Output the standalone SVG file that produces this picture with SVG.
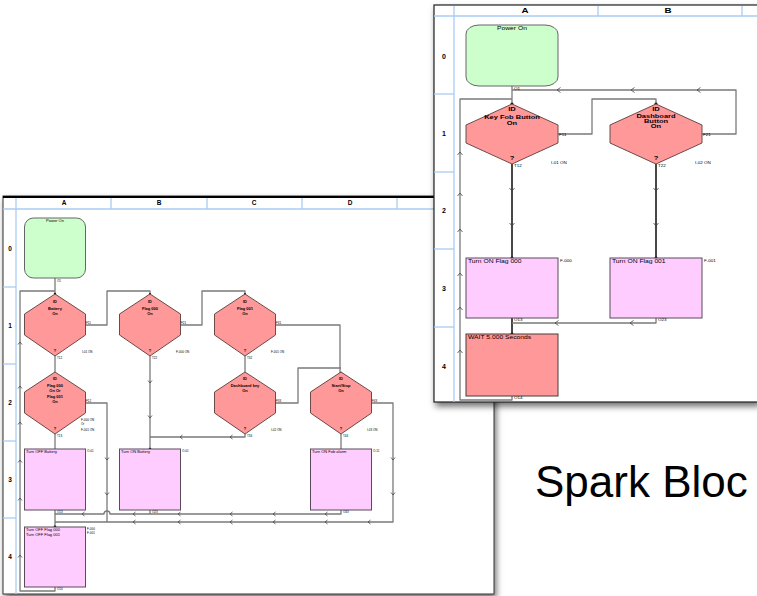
<svg xmlns="http://www.w3.org/2000/svg" width="757" height="596" viewBox="0 0 757 596">
<style>
.t{font-family:"Liberation Sans",Arial,Helvetica,sans-serif;fill:#000}
.b{font-weight:bold}
.c{fill:none;stroke:#7a7a7a;stroke-width:1.3;stroke-linejoin:round}
.cd{fill:none;stroke:#333;stroke-width:1.8}
.g{stroke:#a9cdf2;stroke-width:1.3;fill:none}
.dia{fill:#ff9999;stroke:#6b4a4a;stroke-width:1;stroke-linejoin:round}
.pk{fill:#ffccff;stroke:#5a4a5a;stroke-width:1}
.rd{fill:#ff9999;stroke:#4a3a3a;stroke-width:1}
.gr{fill:#ccffcc;stroke:#666;stroke-width:1}
.ar{fill:none;stroke:#444;stroke-width:0.8}
.dot{fill:#111}
.s3{font-size:3px}
.s4{font-size:4px}
</style>
<defs>
<filter id="sh" x="-5%" y="-5%" width="112%" height="112%">
<feDropShadow dx="2" dy="4" stdDeviation="3" flood-color="#000" flood-opacity="0.55"/>
</filter>
<path id="aL" d="M2.5,-2 L0,0 L2.5,2"/>
<path id="aU" d="M-2,2.5 L0,0 L2,2.5"/>
<path id="aD" d="M-2,-2.5 L0,0 L2,-2.5"/>
<path id="bL" d="M3.5,-2.5 L0,0 L3.5,2.5"/>
<path id="bU" d="M-2.5,3 L0,0 L2.5,3"/>
<path id="bD" d="M-2.5,-3 L0,0 L2.5,-3"/>
</defs>
<rect width="757" height="596" fill="#fff"/>

<!-- LEFT PANEL -->
<g id="left-panel">
<rect x="3" y="196" width="491" height="398" fill="#fff" stroke="#333" stroke-width="1" filter="url(#sh)"/>
<line x1="3" y1="197" x2="494" y2="197" stroke="#000" stroke-width="2"/>
<g class="g">
<line x1="3" y1="209" x2="494" y2="209"/>
<line x1="16" y1="198" x2="16" y2="594"/>
<line x1="111" y1="198" x2="111" y2="209"/>
<line x1="207" y1="198" x2="207" y2="209"/>
<line x1="302" y1="198" x2="302" y2="209"/>
<line x1="397" y1="198" x2="397" y2="209"/>
<line x1="3" y1="287" x2="16" y2="287"/>
<line x1="3" y1="364" x2="16" y2="364"/>
<line x1="3" y1="441" x2="16" y2="441"/>
<line x1="3" y1="518" x2="16" y2="518"/>
</g>
<g class="t b" font-size="6.5" text-anchor="middle">
<text x="64" y="205">A</text><text x="159" y="205">B</text><text x="254" y="205">C</text><text x="350" y="205">D</text>
<text x="10" y="251">0</text><text x="10" y="328">1</text><text x="10" y="405">2</text><text x="10" y="482">3</text><text x="10" y="559">4</text>
</g>
</g>

<g id="left-connectors">
<path class="c" d="M55,278 V294"/>
<path class="c" d="M55,587 V591 H20 V291 H55"/>
<path class="c" d="M85,325 H107 V291 H150 V294"/>
<path class="c" d="M181,325 H202 V291 H245 V294"/>
<path class="c" d="M276,325 H340 V373"/>
<path class="c" d="M275,403 H298 V368 H341"/>
<path class="c" d="M55,356 V372"/>
<path class="c" d="M150,356 V449"/>
<path class="c" d="M245,356 V372"/>
<path class="c" d="M245,434 V437 H150"/>
<path class="c" d="M85,403 H107 V522"/>
<path class="c" d="M341,510 V514 H110 A3,3 0 0 0 104,514 H55 V527"/>
<path class="c" d="M150,510 V514"/>
<path class="c" d="M55,510 V514"/>
<path class="c" d="M372,403 H393 V522 H55"/>
<path class="c" d="M55,434 V449"/>
<path class="c" d="M341,434 V449"/>
<g class="ar">
<use href="#aU" x="20" y="342"/><use href="#aU" x="20" y="386"/><use href="#aU" x="20" y="422"/><use href="#aU" x="20" y="460"/><use href="#aU" x="20" y="498"/><use href="#aU" x="20" y="555"/>
<use href="#aD" x="150" y="383"/><use href="#aD" x="150" y="418"/>
<use href="#aD" x="107" y="460"/><use href="#aD" x="107" y="495"/>
<use href="#aD" x="393" y="460"/><use href="#aD" x="393" y="495"/>
<use href="#aL" x="180" y="437"/><use href="#aL" x="230" y="437"/>
<use href="#aL" x="82" y="514"/><use href="#aL" x="133" y="514"/><use href="#aL" x="178" y="514"/><use href="#aL" x="230" y="514"/><use href="#aL" x="273" y="514"/><use href="#aL" x="325" y="514"/>
<use href="#aL" x="133" y="522"/><use href="#aL" x="178" y="522"/><use href="#aL" x="230" y="522"/><use href="#aL" x="273" y="522"/><use href="#aL" x="325" y="522"/><use href="#aL" x="368" y="522"/>
</g>
<circle class="dot" cx="55" cy="294" r="1.2"/><circle class="dot" cx="150" cy="294" r="1.1"/><circle class="dot" cx="245" cy="294" r="1.1"/>
<circle class="dot" cx="341" cy="373" r="1.2"/><circle class="dot" cx="150" cy="449" r="1.3"/><circle class="dot" cx="55" cy="527" r="1.4"/>
</g>

<g id="L-power-on">
<rect class="gr" x="24.5" y="218" width="61" height="60" rx="9"/>
<text class="t s4" x="55" y="222" text-anchor="middle">Power On</text>
<text class="t s3" x="57" y="282">O1</text>
</g>
<g id="L-battery">
<path class="dia" d="M55,294 L85.5,314 L85.5,335 L55,356 L24.5,335 L24.5,314 Z"/>
<g class="t s4 b" text-anchor="middle"><text x="55" y="303">ID</text><text x="55" y="310">Battery</text><text x="55" y="315">On</text><text x="55" y="352">?</text></g>
<text class="t s3" x="86" y="324">F11</text><text class="t s3" x="57" y="359">T12</text>
<text class="t s3" x="82" y="353">I-01 ON</text>
</g>
<g id="L-flag000">
<path class="dia" d="M150,294 L180.5,314 L180.5,335 L150,356 L119.5,335 L119.5,314 Z"/>
<g class="t s4 b" text-anchor="middle"><text x="150" y="303">ID</text><text x="150" y="310">Flag 000</text><text x="150" y="315">On</text><text x="150" y="352">?</text></g>
<text class="t s3" x="181" y="324">F21</text><text class="t s3" x="152" y="359">T22</text>
<text class="t s3" x="176" y="353">F-000 ON</text>
</g>
<g id="L-flag001">
<path class="dia" d="M245,294 L275.5,314 L275.5,335 L245,356 L214.5,335 L214.5,314 Z"/>
<g class="t s4 b" text-anchor="middle"><text x="245" y="303">ID</text><text x="245" y="310">Flag 001</text><text x="245" y="315">On</text><text x="245" y="352">?</text></g>
<text class="t s3" x="276" y="324">F31</text><text class="t s3" x="247" y="359">T32</text>
<text class="t s3" x="271" y="353">F-001 ON</text>
</g>
<g id="L-flag-or">
<path class="dia" d="M55,372 L85.5,392 L85.5,413 L55,434 L24.5,413 L24.5,392 Z"/>
<g class="t s4 b" text-anchor="middle"><text x="55" y="380">ID</text><text x="55" y="387">Flag 000</text><text x="55" y="392">On Or</text><text x="55" y="398">Flag 001</text><text x="55" y="403">On</text><text x="55" y="430">?</text></g>
<text class="t s3" x="86" y="402">F12</text><text class="t s3" x="57" y="437">T13</text>
<text class="t s3" x="81" y="421">F-000 ON</text><text class="t s3" x="81" y="425">Or</text><text class="t s3" x="81" y="431">F-001 ON</text>
</g>
<g id="L-dashboard">
<path class="dia" d="M245,372 L275.5,392 L275.5,413 L245,434 L214.5,413 L214.5,392 Z"/>
<g class="t s4 b" text-anchor="middle"><text x="245" y="380">ID</text><text x="245" y="387">Dashboard key</text><text x="245" y="392">On</text><text x="245" y="430">?</text></g>
<text class="t s3" x="276" y="402">F33</text><text class="t s3" x="247" y="437">T34</text>
<text class="t s3" x="271" y="431">I-02 ON</text>
</g>
<g id="L-startstop">
<path class="dia" d="M341,372 L371.5,392 L371.5,413 L341,434 L310.5,413 L310.5,392 Z"/>
<g class="t s4 b" text-anchor="middle"><text x="341" y="380">ID</text><text x="341" y="387">Start/Stop</text><text x="341" y="392">On</text><text x="341" y="430">?</text></g>
<text class="t s3" x="372" y="402">F43</text><text class="t s3" x="343" y="437">T44</text>
<text class="t s3" x="367" y="431">I-03 ON</text>
</g>
<g id="L-off-battery">
<rect class="pk" x="24.5" y="449" width="61" height="61"/>
<text class="t s4" x="26" y="453">Turn OFF Battery</text>
<text class="t s3" x="87" y="452">O-01</text><text class="t s3" x="57" y="513">O13</text>
</g>
<g id="L-on-battery">
<rect class="pk" x="119.5" y="449" width="61" height="61"/>
<text class="t s4" x="121" y="453">Turn ON Battery</text>
<text class="t s3" x="182" y="452">O-01</text><text class="t s3" x="152" y="513">O23</text>
</g>
<g id="L-on-fob">
<rect class="pk" x="310.5" y="449" width="61" height="61"/>
<text class="t s4" x="312" y="453">Turn ON Fob alarm</text>
<text class="t s3" x="373" y="452">O-11</text><text class="t s3" x="343" y="513">O43</text>
</g>
<g id="L-off-flags">
<rect class="pk" x="24.5" y="527" width="61" height="60"/>
<text class="t s4" x="26" y="531">Turn OFF Flag 000</text>
<text class="t s4" x="26" y="536">Turn OFF Flag 001</text>
<text class="t s3" x="87" y="530">F-000</text><text class="t s3" x="87" y="534">F-001</text><text class="t s3" x="57" y="590">O14</text>
</g>

<!-- RIGHT PANEL -->
<g id="right-panel">
<rect x="434" y="5" width="324" height="397" fill="#fff" stroke="#222" stroke-width="1.2" filter="url(#sh)"/>
<g class="g">
<line x1="434" y1="16" x2="757" y2="16"/>
<line x1="454" y1="6" x2="454" y2="402"/>
<line x1="598" y1="6" x2="598" y2="16"/>
<line x1="742" y1="6" x2="742" y2="16"/>
<line x1="434" y1="94" x2="454" y2="94"/>
<line x1="434" y1="172" x2="454" y2="172"/>
<line x1="434" y1="249" x2="454" y2="249"/>
<line x1="434" y1="327" x2="454" y2="327"/>
</g>
<g class="t b" font-size="7" text-anchor="middle">
<text transform="translate(525,13) scale(1.4,1)">A</text>
<text transform="translate(668,13) scale(1.4,1)">B</text>
<text x="444" y="59">0</text><text x="444" y="136">1</text><text x="444" y="213">2</text><text x="444" y="291">3</text><text x="444" y="369">4</text>
</g>
</g>

<g id="right-connectors">
<path class="c" d="M512,86 V104"/>
<path class="c" d="M701,134 H736 V90 H512"/>
<path class="c" d="M558,134 H592 V99 H656 V104"/>
<path class="c" d="M512,396 V400 H460 V99 H512"/>
<path class="cd" d="M512,164 V258"/>
<path class="cd" d="M656,164 V258"/>
<path class="cd" d="M512,318 V334"/>
<path class="c" d="M656,318 V323 H512"/>
<g class="ar">
<use href="#bL" x="557" y="90"/><use href="#bL" x="631" y="90"/><use href="#bL" x="697" y="90"/>
<use href="#bU" x="460" y="152"/><use href="#bU" x="460" y="193"/><use href="#bU" x="460" y="229"/><use href="#bU" x="460" y="273"/><use href="#bU" x="460" y="307"/><use href="#bU" x="460" y="350"/>
<use href="#bD" x="512" y="191"/><use href="#bD" x="512" y="226"/>
<use href="#bD" x="656" y="191"/><use href="#bD" x="656" y="226"/>
<use href="#bL" x="555" y="323"/><use href="#bL" x="630" y="323"/>
</g>
<circle class="dot" cx="512" cy="104" r="1.6"/><circle class="dot" cx="656" cy="104" r="1.6"/>
<circle class="dot" cx="512" cy="258" r="1.6"/><circle class="dot" cx="656" cy="258" r="1.6"/><circle class="dot" cx="512" cy="334" r="1.6"/>
</g>

<g id="R-power-on">
<rect class="gr" x="466" y="25" width="92" height="61" rx="13" ry="9"/>
<text class="t" font-size="4.5" text-anchor="middle" transform="translate(512,30) scale(1.5,1)">Power On</text>
<text class="t s3" transform="translate(514,90) scale(1.5,1)">O1</text>
</g>
<g id="R-keyfob">
<path class="dia" d="M512,104 L558,125 L558,143 L512,164 L466,143 L466,125 Z"/>
<g class="t b" font-size="5" text-anchor="middle">
<text transform="translate(512,111) scale(1.5,1)">ID</text>
<text transform="translate(512,119) scale(1.5,1)">Key Fob Button</text>
<text transform="translate(512,125) scale(1.5,1)">On</text>
<text transform="translate(512,160) scale(1.5,1)">?</text>
</g>
<text class="t s3" transform="translate(559,136) scale(1.5,1)">F11</text>
<text class="t s3" transform="translate(514,167) scale(1.5,1)">T12</text>
<text class="t s3" transform="translate(551,164) scale(1.5,1)">I-01 ON</text>
</g>
<g id="R-dashboard">
<path class="dia" d="M656,104 L702,125 L702,143 L656,164 L610,143 L610,125 Z"/>
<g class="t b" font-size="5" text-anchor="middle">
<text transform="translate(656,111) scale(1.5,1)">ID</text>
<text transform="translate(656,118) scale(1.5,1)">Dashboard</text>
<text transform="translate(656,123) scale(1.5,1)">Button</text>
<text transform="translate(656,128) scale(1.5,1)">On</text>
<text transform="translate(656,160) scale(1.5,1)">?</text>
</g>
<text class="t s3" transform="translate(703,136) scale(1.5,1)">F21</text>
<text class="t s3" transform="translate(658,167) scale(1.5,1)">T22</text>
<text class="t s3" transform="translate(695,164) scale(1.5,1)">I-02 ON</text>
</g>
<g id="R-on-flag000">
<rect class="pk" x="466" y="258" width="92" height="60"/>
<text class="t" font-size="4.5" transform="translate(468,263) scale(1.5,1)">Turn ON Flag 000</text>
<text class="t s3" transform="translate(560,262) scale(1.5,1)">F-000</text>
<text class="t s3" transform="translate(514,321) scale(1.5,1)">O13</text>
</g>
<g id="R-on-flag001">
<rect class="pk" x="610" y="258" width="92" height="60"/>
<text class="t" font-size="4.5" transform="translate(612,263) scale(1.5,1)">Turn ON Flag 001</text>
<text class="t s3" transform="translate(704,262) scale(1.5,1)">F-001</text>
<text class="t s3" transform="translate(658,321) scale(1.5,1)">O23</text>
</g>
<g id="R-wait">
<rect class="rd" x="466" y="334" width="92" height="62"/>
<text class="t" font-size="4.5" transform="translate(468,339) scale(1.5,1)">WAIT 5.000 Seconds</text>
<text class="t s3" transform="translate(514,399) scale(1.5,1)">O14</text>
</g>

<text class="t" x="535" y="497" font-size="44">Spark Bloc</text>
</svg>
